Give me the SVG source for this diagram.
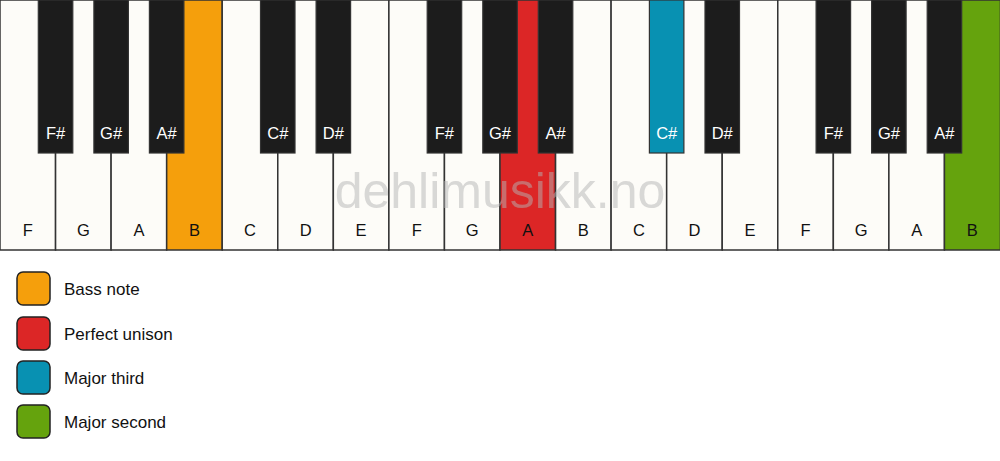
<svg xmlns="http://www.w3.org/2000/svg" width="1000" height="461" viewBox="0 0 1000 461">
<style>
.w{fill:#fdfcf8;stroke:#333;stroke-width:1.5}
.b{fill:#1c1c1c;stroke:#333;stroke-width:1.2}
.wl{font-family:"Liberation Sans",Arial,sans-serif;font-size:16.5px;fill:#111;text-anchor:middle}
.bl{font-family:"Liberation Sans",Arial,sans-serif;font-size:16.5px;fill:#fff;text-anchor:middle}
.lg{stroke:#222;stroke-width:1.5}
.lt{font-family:"Liberation Sans",Arial,sans-serif;font-size:17px;fill:#111}
.org{fill:#f59f0c}.red{fill:#dc2626}.blu{fill:#0891b2}.grn{fill:#65a30d}
</style>
<rect width="1000" height="461" fill="#fff"/>
<g id="white-keys">
<g id="w0"><rect class="w" x="0" y="0" width="55.56" height="250"/><text class="wl" x="27.8" y="236">F</text></g>
<g id="w1"><rect class="w" x="55.56" y="0" width="55.56" height="250"/><text class="wl" x="83.3" y="236">G</text></g>
<g id="w2"><rect class="w" x="111.11" y="0" width="55.56" height="250"/><text class="wl" x="138.9" y="236">A</text></g>
<g id="w3"><rect class="w org" x="166.67" y="0" width="55.56" height="250"/><text class="wl" x="194.4" y="236">B</text></g>
<g id="w4"><rect class="w" x="222.22" y="0" width="55.56" height="250"/><text class="wl" x="250" y="236">C</text></g>
<g id="w5"><rect class="w" x="277.78" y="0" width="55.56" height="250"/><text class="wl" x="305.6" y="236">D</text></g>
<g id="w6"><rect class="w" x="333.33" y="0" width="55.56" height="250"/><text class="wl" x="361.1" y="236">E</text></g>
<g id="w7"><rect class="w" x="388.89" y="0" width="55.56" height="250"/><text class="wl" x="416.7" y="236">F</text></g>
<g id="w8"><rect class="w" x="444.44" y="0" width="55.56" height="250"/><text class="wl" x="472.2" y="236">G</text></g>
<g id="w9"><rect class="w red" x="500" y="0" width="55.56" height="250"/><text class="wl" x="527.8" y="236">A</text></g>
<g id="w10"><rect class="w" x="555.56" y="0" width="55.56" height="250"/><text class="wl" x="583.3" y="236">B</text></g>
<g id="w11"><rect class="w" x="611.11" y="0" width="55.56" height="250"/><text class="wl" x="638.9" y="236">C</text></g>
<g id="w12"><rect class="w" x="666.67" y="0" width="55.56" height="250"/><text class="wl" x="694.4" y="236">D</text></g>
<g id="w13"><rect class="w" x="722.22" y="0" width="55.56" height="250"/><text class="wl" x="750" y="236">E</text></g>
<g id="w14"><rect class="w" x="777.78" y="0" width="55.56" height="250"/><text class="wl" x="805.6" y="236">F</text></g>
<g id="w15"><rect class="w" x="833.33" y="0" width="55.56" height="250"/><text class="wl" x="861.1" y="236">G</text></g>
<g id="w16"><rect class="w" x="888.89" y="0" width="55.56" height="250"/><text class="wl" x="916.7" y="236">A</text></g>
<g id="w17"><rect class="w grn" x="944.44" y="0" width="56" height="250"/><text class="wl" x="972.2" y="236">B</text></g>
</g>
<g id="black-keys">
<g id="b0"><rect class="b" x="38.3" y="0" width="34.5" height="153"/><text class="bl" x="55.6" y="139">F#</text></g>
<g id="b1"><rect class="b" x="93.9" y="0" width="34.5" height="153"/><text class="bl" x="111.1" y="139">G#</text></g>
<g id="b2"><rect class="b" x="149.4" y="0" width="34.5" height="153"/><text class="bl" x="166.7" y="139">A#</text></g>
<g id="b3"><rect class="b" x="260.5" y="0" width="34.5" height="153"/><text class="bl" x="277.8" y="139">C#</text></g>
<g id="b4"><rect class="b" x="316.1" y="0" width="34.5" height="153"/><text class="bl" x="333.3" y="139">D#</text></g>
<g id="b5"><rect class="b" x="427.2" y="0" width="34.5" height="153"/><text class="bl" x="444.4" y="139">F#</text></g>
<g id="b6"><rect class="b" x="482.8" y="0" width="34.5" height="153"/><text class="bl" x="500" y="139">G#</text></g>
<g id="b7"><rect class="b" x="538.3" y="0" width="34.5" height="153"/><text class="bl" x="555.6" y="139">A#</text></g>
<g id="b8"><rect class="b blu" x="649.4" y="0" width="34.5" height="153"/><text class="bl" x="666.7" y="139">C#</text></g>
<g id="b9"><rect class="b" x="705" y="0" width="34.5" height="153"/><text class="bl" x="722.2" y="139">D#</text></g>
<g id="b10"><rect class="b" x="816.1" y="0" width="34.5" height="153"/><text class="bl" x="833.3" y="139">F#</text></g>
<g id="b11"><rect class="b" x="871.6" y="0" width="34.5" height="153"/><text class="bl" x="888.9" y="139">G#</text></g>
<g id="b12"><rect class="b" x="927.2" y="0" width="34.5" height="153"/><text class="bl" x="944.4" y="139">A#</text></g>
</g>
<text x="500" y="208" font-family="Liberation Sans,Arial,sans-serif" font-size="50" fill="#b4b4b4" fill-opacity="0.5" text-anchor="middle">dehlimusikk.no</text>
<g id="legend">
<g id="lg0"><rect class="lg org" x="17" y="272" width="33" height="33" rx="6"/><text class="lt" x="64" y="295">Bass note</text></g>
<g id="lg1"><rect class="lg red" x="17" y="317" width="33" height="33" rx="6"/><text class="lt" x="64" y="340">Perfect unison</text></g>
<g id="lg2"><rect class="lg blu" x="17" y="361" width="33" height="33" rx="6"/><text class="lt" x="64" y="384">Major third</text></g>
<g id="lg3"><rect class="lg grn" x="17" y="405" width="33" height="33" rx="6"/><text class="lt" x="64" y="428">Major second</text></g>
</g>
<g id="connectors"/>
</svg>
